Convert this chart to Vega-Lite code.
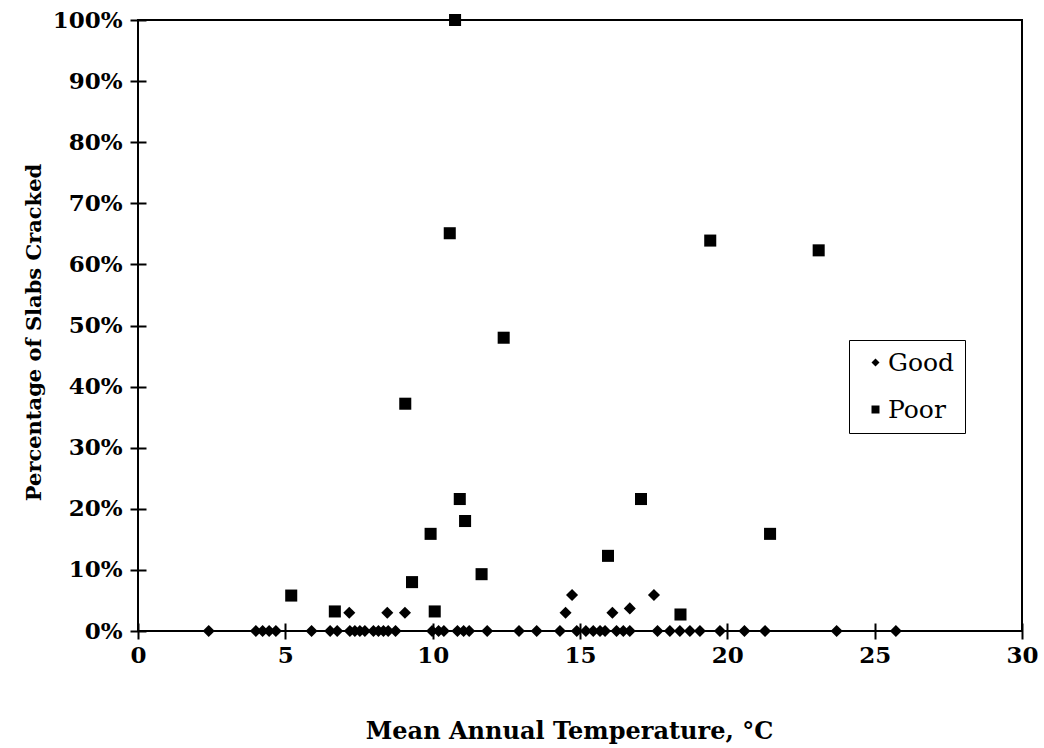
{
  "$schema": "https://vega.github.io/schema/vega-lite/v6.json",
  "width": 884,
  "height": 611,
  "autosize": {"type": "none"},
  "padding": {"left": 138, "top": 20, "right": 22, "bottom": 117},
  "background": "white",
  "config": {
    "view": {"stroke": "black", "strokeWidth": 2},
    "font": "DejaVu Serif"
  },
  "data": {
    "values": [
      {"t": 2.4, "p": 0, "s": "Good"},
      {"t": 4.0, "p": 0, "s": "Good"},
      {"t": 4.23, "p": 0, "s": "Good"},
      {"t": 4.45, "p": 0, "s": "Good"},
      {"t": 4.68, "p": 0, "s": "Good"},
      {"t": 5.89, "p": 0, "s": "Good"},
      {"t": 6.52, "p": 0, "s": "Good"},
      {"t": 6.76, "p": 0, "s": "Good"},
      {"t": 7.19, "p": 0, "s": "Good"},
      {"t": 7.36, "p": 0, "s": "Good"},
      {"t": 7.53, "p": 0, "s": "Good"},
      {"t": 7.7, "p": 0, "s": "Good"},
      {"t": 7.99, "p": 0, "s": "Good"},
      {"t": 8.16, "p": 0, "s": "Good"},
      {"t": 8.33, "p": 0, "s": "Good"},
      {"t": 8.49, "p": 0, "s": "Good"},
      {"t": 8.74, "p": 0, "s": "Good"},
      {"t": 9.98, "p": 0, "s": "Good"},
      {"t": 10.2, "p": 0, "s": "Good"},
      {"t": 10.38, "p": 0, "s": "Good"},
      {"t": 10.84, "p": 0, "s": "Good"},
      {"t": 11.05, "p": 0, "s": "Good"},
      {"t": 11.24, "p": 0, "s": "Good"},
      {"t": 11.85, "p": 0, "s": "Good"},
      {"t": 12.93, "p": 0, "s": "Good"},
      {"t": 13.53, "p": 0, "s": "Good"},
      {"t": 14.32, "p": 0, "s": "Good"},
      {"t": 14.89, "p": 0, "s": "Good"},
      {"t": 15.2, "p": 0, "s": "Good"},
      {"t": 15.45, "p": 0, "s": "Good"},
      {"t": 15.68, "p": 0, "s": "Good"},
      {"t": 15.85, "p": 0, "s": "Good"},
      {"t": 16.24, "p": 0, "s": "Good"},
      {"t": 16.47, "p": 0, "s": "Good"},
      {"t": 16.69, "p": 0, "s": "Good"},
      {"t": 17.63, "p": 0, "s": "Good"},
      {"t": 18.05, "p": 0, "s": "Good"},
      {"t": 18.39, "p": 0, "s": "Good"},
      {"t": 18.73, "p": 0, "s": "Good"},
      {"t": 19.07, "p": 0, "s": "Good"},
      {"t": 19.75, "p": 0, "s": "Good"},
      {"t": 20.58, "p": 0, "s": "Good"},
      {"t": 21.28, "p": 0, "s": "Good"},
      {"t": 23.71, "p": 0, "s": "Good"},
      {"t": 25.72, "p": 0, "s": "Good"},
      {"t": 7.17, "p": 3.0, "s": "Good"},
      {"t": 8.46, "p": 3.0, "s": "Good"},
      {"t": 9.06, "p": 3.0, "s": "Good"},
      {"t": 14.51, "p": 3.0, "s": "Good"},
      {"t": 14.73, "p": 5.9, "s": "Good"},
      {"t": 16.1, "p": 3.0, "s": "Good"},
      {"t": 16.69, "p": 3.7, "s": "Good"},
      {"t": 17.51, "p": 5.9, "s": "Good"},
      {"t": 5.2, "p": 5.8, "s": "Poor"},
      {"t": 6.68, "p": 3.2, "s": "Poor"},
      {"t": 9.07, "p": 37.2, "s": "Poor"},
      {"t": 9.3, "p": 8.0, "s": "Poor"},
      {"t": 9.93, "p": 15.9, "s": "Poor"},
      {"t": 10.07, "p": 3.2, "s": "Poor"},
      {"t": 10.58, "p": 65.1, "s": "Poor"},
      {"t": 10.76, "p": 100, "s": "Poor"},
      {"t": 10.92, "p": 21.6, "s": "Poor"},
      {"t": 11.1, "p": 18.0, "s": "Poor"},
      {"t": 11.66, "p": 9.3, "s": "Poor"},
      {"t": 12.41, "p": 48.0, "s": "Poor"},
      {"t": 15.95, "p": 12.3, "s": "Poor"},
      {"t": 17.07, "p": 21.6, "s": "Poor"},
      {"t": 18.41, "p": 2.7, "s": "Poor"},
      {"t": 19.42, "p": 63.9, "s": "Poor"},
      {"t": 21.45, "p": 15.9, "s": "Poor"},
      {"t": 23.1, "p": 62.3, "s": "Poor"}
    ]
  },
  "mark": {"type": "point", "filled": true, "opacity": 1, "color": "black", "strokeWidth": 0, "size": 145},
  "encoding": {
    "x": {
      "field": "t",
      "type": "quantitative",
      "scale": {"domain": [0, 30], "nice": false, "zero": false},
      "axis": {
        "title": "Mean Annual Temperature, °C",
        "values": [0, 5, 10, 15, 20, 25, 30],
        "grid": false,
        "domain": false,
        "offset": -8,
        "tickSize": 16,
        "tickColor": "black",
        "tickWidth": 2,
        "labelFont": "DejaVu Serif",
        "labelFontWeight": "bold",
        "labelFontSize": 23,
        "labelColor": "black",
        "labelPadding": 5,
        "labelFlush": false,
        "titleFont": "DejaVu Serif",
        "titleFontWeight": "bold",
        "titleFontSize": 24,
        "titleColor": "black",
        "titlePadding": 52,
        "titleX": 431
      }
    },
    "y": {
      "field": "p",
      "type": "quantitative",
      "scale": {"domain": [0, 100], "nice": false, "zero": false},
      "axis": {
        "title": "Percentage of Slabs Cracked",
        "values": [0, 10, 20, 30, 40, 50, 60, 70, 80, 90, 100],
        "labelExpr": "datum.value + '%'",
        "grid": false,
        "domain": false,
        "offset": -8,
        "tickSize": 16,
        "tickColor": "black",
        "tickWidth": 2,
        "labelFont": "DejaVu Serif",
        "labelFontWeight": "bold",
        "labelFontSize": 23,
        "labelColor": "black",
        "labelPadding": 8,
        "labelFlush": false,
        "titleFont": "DejaVu Serif",
        "titleFontWeight": "bold",
        "titleFontSize": 21,
        "titleColor": "black",
        "titlePadding": 8,
        "titleY": 312
      }
    },
    "shape": {
      "field": "s",
      "type": "nominal",
      "scale": {"domain": ["Good", "Poor"], "range": ["diamond", "square"]},
      "legend": {
        "title": null,
        "orient": "none",
        "legendX": 711,
        "legendY": 320,
        "strokeColor": "black",
        "padding": 10,
        "fillColor": "white",
        "symbolSize": 64,
        "symbolFillColor": "black",
        "symbolStrokeWidth": 0,
        "symbolOffset": 4,
        "labelFont": "DejaVu Serif",
        "labelFontSize": 25,
        "labelColor": "black",
        "labelOffset": 0,
        "rowPadding": 21,
        "encode": {"legend": {"update": {"strokeWidth": {"value": 2}}}}
      }
    }
  }
}
